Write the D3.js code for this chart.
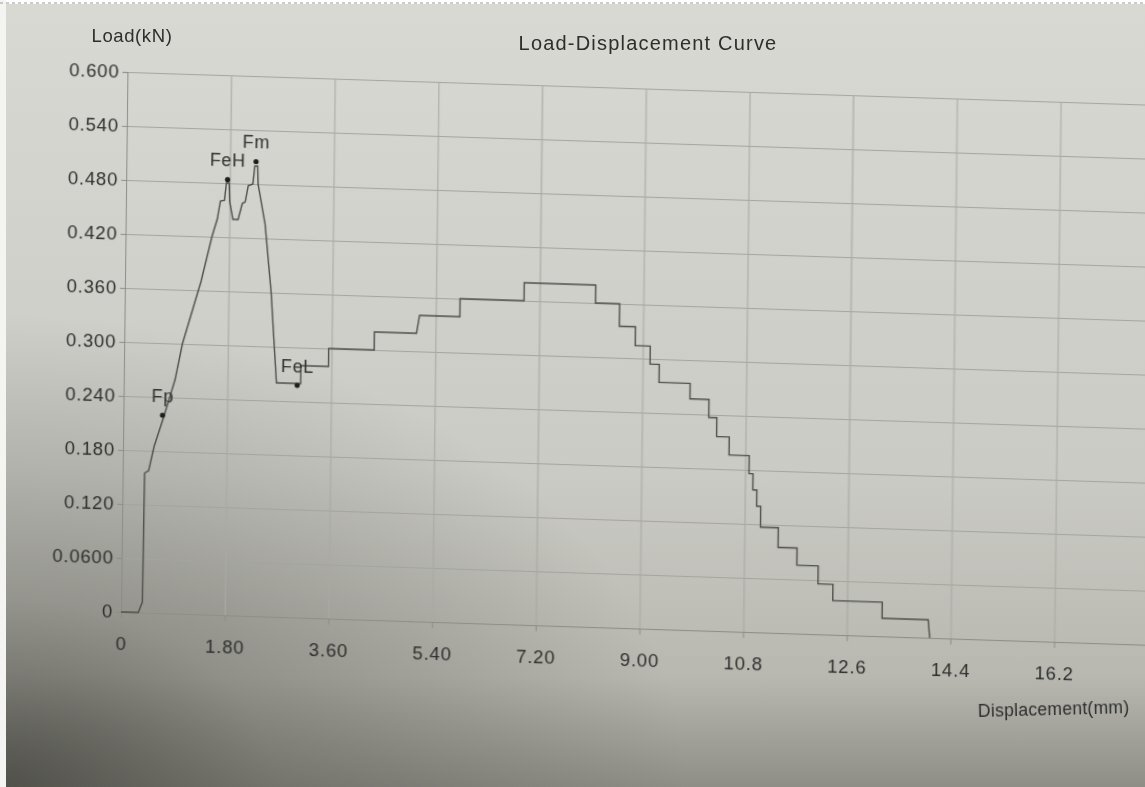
<!DOCTYPE html>
<html>
<head>
<meta charset="utf-8">
<script src="https://cdn.jsdelivr.net/npm/d3@7"></script>
<style>
  body { margin: 0; overflow: hidden; background: #cfcfc9; }
  svg { display: block; }
  text { font-family: "Liberation Sans", Arial, sans-serif; fill: #2e2e2c; }
</style>
</head>
<body>
<div id="container"></div>
<script>
const disp = [0, 0.30, 0.37, 0.38, 0.45, 0.54, 0.71, 0.89, 1.01, 1.32, 1.50, 1.59, 1.64, 1.71, 1.74, 1.79, 1.80, 1.86, 1.95, 2.02,
  2.07, 2.12, 2.20, 2.23, 2.28, 2.29, 2.42, 2.54, 2.60, 2.65, 3.07, 3.07, 3.55, 3.55, 4.34, 4.34, 5.07, 5.12, 5.82, 5.82,
  6.93, 6.93, 8.17, 8.17, 8.59, 8.59, 8.87, 8.87, 9.13, 9.13, 9.29, 9.29, 9.83, 9.83, 10.16, 10.16, 10.30, 10.30, 10.52, 10.52,
  10.87, 10.87, 10.94, 10.94, 11.01, 11.01, 11.08, 11.08, 11.39, 11.39, 11.72, 11.72, 12.09, 12.09, 12.35, 12.35, 13.21, 13.21, 14.01, 14.04];
const load = [0, 0, 0.012, 0.155, 0.158, 0.185, 0.22, 0.26, 0.30, 0.37, 0.42, 0.44, 0.46, 0.461, 0.48, 0.48, 0.46, 0.44, 0.44, 0.458,
  0.46, 0.478, 0.48, 0.50, 0.50, 0.48, 0.436, 0.36, 0.305, 0.26, 0.26, 0.28, 0.28, 0.30, 0.30, 0.32, 0.32, 0.34, 0.34, 0.36,
  0.36, 0.38, 0.38, 0.36, 0.36, 0.335, 0.335, 0.314, 0.314, 0.294, 0.294, 0.274, 0.274, 0.257, 0.257, 0.237, 0.237, 0.216, 0.216, 0.196,
  0.196, 0.176, 0.176, 0.158, 0.158, 0.14, 0.14, 0.117, 0.117, 0.095, 0.095, 0.076, 0.076, 0.056, 0.056, 0.038, 0.038, 0.020, 0.020, 0];

const markNames = ["Fp", "FeH", "Fm", "FeL"];
const markDisp = [0.68, 1.76, 2.25, 3.01];
const markLoad = [0.22, 0.484, 0.505, 0.258];

const xTicks = [0, 1.8, 3.6, 5.4, 7.2, 9.0, 10.8, 12.6, 14.4, 16.2];
const yTicks = [0, 0.06, 0.12, 0.18, 0.24, 0.30, 0.36, 0.42, 0.48, 0.54, 0.60];

const width = 1145, height = 787;
const x0 = 121, y0 = 612, yTop = 72;

const svg = d3.select("#container").append("svg")
  .attr("width", width).attr("height", height);

const defs = svg.append("defs");
const paper = defs.append("linearGradient").attr("id", "paper")
  .attr("x1", 0).attr("y1", 0).attr("x2", 0).attr("y2", 1);
[[0, "#d9d9d4"], [0.6, "#cbcbc5"], [0.86, "#b8b8b1"], [1, "#8e8e87"]]
  .forEach(s => paper.append("stop").attr("offset", s[0]).attr("stop-color", s[1]));
const shade = defs.append("radialGradient").attr("id", "shade")
  .attr("cx", 0).attr("cy", 1).attr("r", 0.6);
[[0, 0.75], [0.4, 0.32], [1, 0]]
  .forEach(s => shade.append("stop").attr("offset", s[0]).attr("stop-color", "#3c3c36").attr("stop-opacity", s[1]));
defs.append("filter").attr("id", "soft")
  .append("feGaussianBlur").attr("stdDeviation", 0.45);

svg.append("rect").attr("width", width).attr("height", height).attr("fill", "url(#paper)");
svg.append("rect").attr("width", width).attr("height", height).attr("fill", "url(#shade)");
svg.append("rect").attr("width", width).attr("height", 4).attr("fill", "#fdfdfd");
svg.append("rect").attr("width", 6).attr("height", height).attr("fill", "#f4f4f2");
svg.append("line").attr("x1", 0).attr("x2", width).attr("y1", 3).attr("y2", 3)
  .attr("stroke", "#9a9a9a").attr("stroke-dasharray", "3,3");

const x = d3.scaleLinear().domain([0, 19.8]).range([x0, x0 + 19.8 * 57.6]);
const y = d3.scaleLinear().domain([0, 0.6]).range([y0, yTop]);
const fmt = v => v === 0 ? "0" : d3.format(".3r")(v);

// the print was photographed at a slight angle
const plot = svg.append("g")
  .attr("filter", "url(#soft)")
  .attr("transform", `matrix(1,0.032,-0.012,1,${0.012 * y0},${-0.032 * (x0 + 2)})`);

// grid
plot.append("g")
  .attr("class", "grid-y")
  .attr("transform", `translate(${x0},0)`)
  .call(d3.axisLeft(y).tickValues(yTicks).tickSize(-(x(19.8) - x0)).tickFormat(""))
  .call(g => g.select(".domain").remove())
  .selectAll("line").attr("stroke", "#a4a49f").attr("stroke-width", 1.1);

plot.append("g")
  .attr("class", "grid-x")
  .attr("transform", `translate(0,${y0})`)
  .call(d3.axisBottom(x).tickValues(xTicks.slice(1)).tickSize(-(y0 - yTop)).tickFormat(""))
  .call(g => g.select(".domain").remove())
  .selectAll("line").attr("stroke", "#aaaaa5").attr("stroke-width", 1.1);

// axes
const yAxis = plot.append("g")
  .attr("class", "y-axis")
  .attr("transform", `translate(${x0},0)`)
  .call(d3.axisLeft(y).tickValues(yTicks).tickSize(5).tickPadding(3).tickFormat(fmt));
yAxis.select(".domain").attr("stroke", "#8d8d88");
yAxis.selectAll("line").attr("stroke", "#8d8d88");
yAxis.selectAll("text").style("font-size", "18.5px").style("letter-spacing", "0.8px");

const xAxis = plot.append("g")
  .attr("class", "x-axis")
  .attr("transform", `translate(0,${y0})`)
  .call(d3.axisBottom(x).tickValues(xTicks).tickSize(6).tickPadding(19).tickFormat(fmt));
xAxis.select(".domain").attr("stroke", "#8d8d88");
xAxis.selectAll("line").attr("stroke", "#8d8d88");
xAxis.selectAll("text").style("font-size", "18.5px").style("letter-spacing", "0.8px");

// curve
const pts = disp.map((d, i) => [d, load[i]]);
const lineGen = d3.line().x(d => x(d[0])).y(d => y(d[1]));
plot.append("path")
  .datum(pts)
  .attr("class", "trend")
  .attr("fill", "none")
  .attr("stroke", "#4d4d4a")
  .attr("stroke-width", 1.4)
  .attr("d", lineGen);

// characteristic points
const marks = markNames.map((n, i) => ({ name: n, d: markDisp[i], l: markLoad[i] }));
plot.selectAll("circle.mark")
  .data(marks)
  .join("circle")
  .attr("class", "mark")
  .attr("cx", d => x(d.d))
  .attr("cy", d => y(d.l))
  .attr("r", 2.6)
  .attr("fill", "#1f1f1d");
plot.selectAll("text.mark-label")
  .data(marks)
  .join("text")
  .attr("class", "mark-label")
  .attr("x", d => x(d.d))
  .attr("y", d => y(d.l) - 13)
  .attr("text-anchor", "middle")
  .style("font-size", "18px")
  .style("letter-spacing", "0.6px")
  .text(d => d.name);

// titles
const labels = svg.append("g").attr("filter", "url(#soft)");
labels.append("text")
  .attr("x", 648).attr("y", 50)
  .attr("text-anchor", "middle")
  .style("font-size", "20px")
  .style("letter-spacing", "1.2px")
  .text("Load-Displacement Curve");
labels.append("text")
  .attr("x", 132).attr("y", 42)
  .attr("text-anchor", "middle")
  .style("font-size", "18.5px")
  .style("letter-spacing", "0.6px")
  .text("Load(kN)");
labels.append("text")
  .attr("x", 978).attr("y", 717)
  .attr("transform", "rotate(-1.5,978,717)")
  .style("font-size", "17.5px")
  .style("letter-spacing", "0.3px")
  .text("Displacement(mm)");
</script>
</body>
</html>
